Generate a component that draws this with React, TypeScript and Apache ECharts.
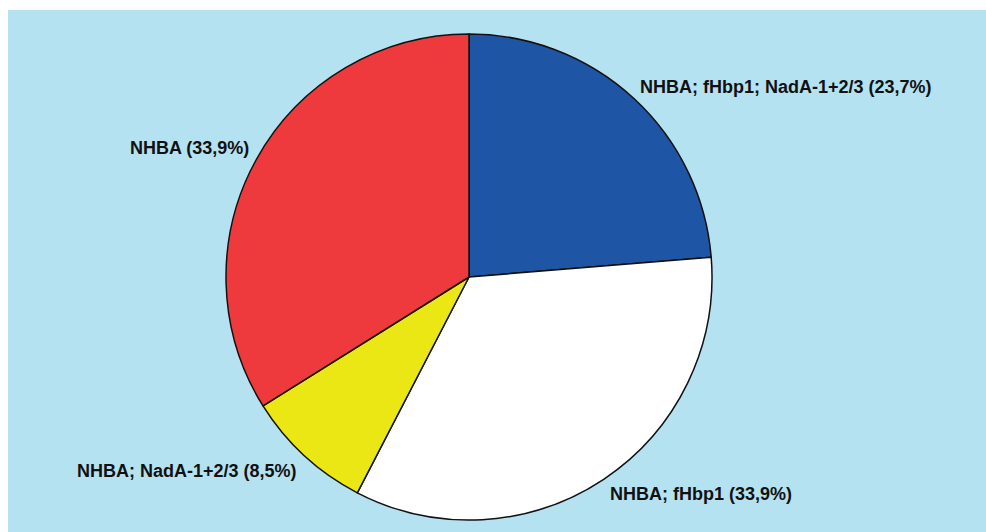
import React, { useEffect, useRef } from "react";
import * as echarts from "echarts";

const categories = [
  "NHBA; fHbp1; NadA-1+2/3",
  "NHBA; fHbp1",
  "NHBA; NadA-1+2/3",
  "NHBA",
];
const values = [23.7, 33.9, 8.5, 33.9];
const valueLabels = ["23,7%", "33,9%", "8,5%", "33,9%"];
const colors = ["#1e55a4", "#ffffff", "#ebe714", "#ee3a3d"];
// label anchor (left, vertical middle) in chart pixels
const labelAnchors: [number, number][] = [
  [632, 77],
  [602, 484],
  [69, 461],
  [122, 138],
];

export default function App() {
  const ref = useRef<HTMLDivElement>(null);
  useEffect(() => {
    if (!ref.current) return;
    const chart = echarts.init(ref.current, undefined, { renderer: "svg" });
    chart.setOption({
      animation: false,
      backgroundColor: "#b5e2f1",
      series: [
        {
          type: "pie",
          center: [461, 267],
          radius: 243,
          startAngle: 90,
          clockwise: true,
          data: categories.map((c, i) => ({
            name: c,
            value: values[i],
            itemStyle: { color: colors[i] },
          })),
          itemStyle: { borderColor: "#111111", borderWidth: 1.5 },
          label: {
            show: true,
            position: "outside",
            formatter: (p: any) => `${p.name} (${valueLabels[p.dataIndex]})`,
            fontFamily: "Liberation Sans, Arial, sans-serif",
            fontWeight: "bold",
            fontSize: 18,
            color: "#111111",
          },
          labelLine: { show: false },
          labelLayout: (params: any) => {
            const a = labelAnchors[params.dataIndex];
            return { x: a[0], y: a[1], align: "left", verticalAlign: "middle" };
          },
          emphasis: { disabled: true },
        },
      ],
    });
    return () => chart.dispose();
  }, []);
  return (
    <div
      ref={ref}
      style={{ position: "absolute", left: 8, top: 10, width: 978, height: 522 }}
    />
  );
}
